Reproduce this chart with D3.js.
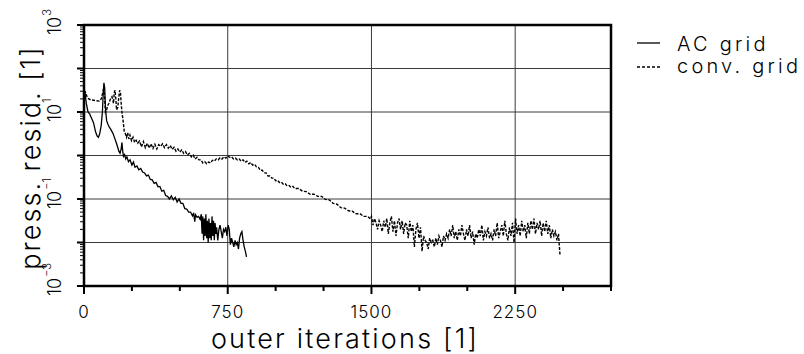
<!DOCTYPE html>
<html>
<head>
<meta charset="utf-8">
<script src="https://cdn.jsdelivr.net/npm/d3@7"></script>
<style>
  body { margin: 0; background: #fff; }
  svg { display: block; font-family: Inter, 'DejaVu Sans', sans-serif; font-weight: 300; }
</style>
</head>
<body>
<svg id="chart" width="804" height="354"></svg>
<script>
// [outer iteration, log10 of pressure residual]
const acGrid = [
  [0, 1.5], [5, 1.45], [12, 1.2], [21, 1.0], [30, 0.95], [40, 0.85], [50, 0.75], [60, 0.55],
  [68, 0.45], [75, 0.42], [82, 0.5], [90, 0.7], [96, 1.0], [100, 1.4], [104, 1.67], [108, 1.55],
  [112, 1.1], [118, 0.8], [125, 0.72], [132, 0.65], [140, 0.6], [146, 0.55], [152, 0.5], [160, 0.4],
  [168, 0.3], [175, 0.2], [182, 0.1], [188, 0.05], [194, 0.15], [198, 0.3], [202, 0.1], [206, -0.02],
  [212, 0.02], [218, -0.08], [224, -0.03], [232, -0.14], [240, -0.1], [250, -0.22], [258, -0.15],
  [266, -0.27], [276, -0.24], [286, -0.33], [296, -0.3], [306, -0.38], [316, -0.4], [326, -0.47],
  [336, -0.45], [346, -0.55], [356, -0.56], [366, -0.64], [376, -0.62], [386, -0.72], [396, -0.71],
  [406, -0.82], [416, -0.8], [426, -0.92], [436, -0.94], [446, -1.0], [456, -0.93], [466, -1.02],
  [476, -0.96], [486, -1.07], [496, -1.0], [506, -1.1], [516, -1.1], [526, -1.22], [536, -1.23],
  [546, -1.3], [556, -1.3], [566, -1.39], [572, -1.32], [578, -1.52], [582, -1.36], [590, -1.42],
  [598, -1.4], [606, -1.47], [612, -1.35], [616, -1.8], [620, -1.4], [624, -1.95], [628, -1.45],
  [632, -1.85], [636, -1.35], [640, -1.9], [644, -1.5], [648, -2.0], [652, -1.45], [656, -1.9],
  [660, -1.55], [664, -1.95], [668, -1.4], [672, -1.85], [676, -1.5], [680, -1.95], [684, -1.55],
  [688, -1.8], [692, -1.65], [698, -1.95], [704, -1.7], [710, -1.6], [716, -1.75], [722, -1.9],
  [728, -1.7], [734, -1.75], [740, -1.65], [746, -1.85], [752, -1.6], [758, -1.7], [764, -2.05],
  [770, -1.9], [776, -2.0], [782, -2.1], [788, -1.95], [794, -2.05], [800, -2.0], [806, -2.15],
  [812, -1.9], [818, -1.8], [824, -1.75], [830, -1.95], [836, -2.1], [842, -2.2], [848, -2.33]
];

const convGrid = [
  [0, 1.5], [8, 1.45], [16, 1.35], [25, 1.3], [35, 1.28], [50, 1.27], [65, 1.26], [80, 1.25],
  [90, 1.3], [98, 1.45], [104, 1.57], [108, 1.3], [112, 1.0], [118, 1.05], [124, 1.15], [130, 1.2],
  [138, 1.3], [146, 1.35], [154, 1.2], [158, 1.45], [162, 1.5], [166, 1.3], [170, 1.05], [176, 1.1],
  [182, 1.35], [186, 1.5], [190, 1.45], [194, 1.2], [198, 1.0], [204, 0.8], [210, 0.55], [216, 0.5],
  [222, 0.42], [228, 0.52], [234, 0.38], [240, 0.47], [248, 0.34], [256, 0.42], [264, 0.3], [272, 0.35],
  [280, 0.28], [290, 0.33], [300, 0.2], [310, 0.32], [320, 0.18], [330, 0.28], [340, 0.17], [350, 0.27],
  [360, 0.16], [370, 0.26], [380, 0.15], [390, 0.25], [400, 0.21], [410, 0.27], [420, 0.18], [430, 0.25],
  [440, 0.17], [450, 0.23], [460, 0.14], [470, 0.19], [480, 0.1], [490, 0.15], [500, 0.08], [510, 0.13],
  [520, 0.05], [530, 0.09], [540, 0.01], [550, 0.05], [560, -0.03], [570, 0.01], [580, -0.08],
  [590, -0.04], [600, -0.1], [610, -0.1], [620, -0.17], [630, -0.14], [640, -0.19], [650, -0.15],
  [660, -0.17], [670, -0.11], [680, -0.13], [690, -0.08], [700, -0.1], [710, -0.05], [720, -0.08],
  [730, -0.03], [740, -0.06], [750, -0.01], [760, -0.04], [770, -0.03], [780, -0.08], [790, -0.06],
  [800, -0.1], [810, -0.08], [820, -0.13], [830, -0.1], [840, -0.16], [850, -0.13], [860, -0.19],
  [870, -0.16], [880, -0.22], [890, -0.2], [900, -0.26], [910, -0.27], [920, -0.34], [930, -0.34],
  [940, -0.4], [950, -0.4], [960, -0.47], [970, -0.47], [980, -0.52], [990, -0.52], [1000, -0.58],
  [1010, -0.57], [1020, -0.62], [1030, -0.61], [1040, -0.66], [1050, -0.65], [1060, -0.7],
  [1070, -0.69], [1080, -0.73], [1090, -0.71], [1100, -0.76], [1120, -0.76], [1140, -0.82],
  [1160, -0.83], [1180, -0.89], [1200, -0.89], [1220, -0.94], [1240, -0.94], [1260, -1.01],
  [1280, -1.02], [1300, -1.1], [1320, -1.12], [1340, -1.2], [1360, -1.21], [1380, -1.27],
  [1400, -1.28], [1420, -1.34], [1440, -1.34], [1460, -1.4], [1480, -1.4], [1495, -1.46],
  [1500, -1.4], [1508, -1.6], [1516, -1.45], [1524, -1.55], [1532, -1.7], [1540, -1.5], [1548, -1.6],
  [1556, -1.75], [1564, -1.5], [1572, -1.65], [1580, -1.45], [1588, -1.8], [1596, -1.55], [1604, -1.4],
  [1612, -1.75], [1620, -1.5], [1628, -1.85], [1636, -1.55], [1644, -1.45], [1652, -1.7], [1660, -1.5],
  [1668, -1.8], [1676, -1.55], [1684, -1.6], [1692, -1.9], [1700, -1.5], [1708, -1.75], [1716, -1.6],
  [1724, -2.1], [1732, -1.7], [1740, -1.55], [1748, -1.9], [1756, -1.65], [1764, -2.2], [1772, -1.85],
  [1780, -1.95], [1788, -2.0], [1796, -2.15], [1804, -1.9], [1812, -2.0], [1820, -1.95], [1828, -2.1],
  [1836, -1.9], [1844, -2.05], [1852, -1.85], [1860, -1.95], [1868, -2.1], [1876, -1.85], [1884, -1.95],
  [1892, -1.8], [1900, -1.9], [1908, -1.7], [1916, -1.85], [1924, -1.6], [1932, -1.9], [1940, -1.75],
  [1948, -1.95], [1956, -1.7], [1964, -1.85], [1972, -1.6], [1980, -1.8], [1988, -1.95], [1996, -1.7],
  [2004, -1.85], [2012, -1.6], [2020, -1.9], [2028, -1.75], [2036, -2.05], [2044, -1.8], [2052, -1.9],
  [2060, -1.7], [2068, -1.85], [2076, -1.6], [2084, -1.95], [2092, -1.75], [2100, -1.85], [2108, -1.65],
  [2116, -1.9], [2124, -1.8], [2132, -1.95], [2140, -1.7], [2148, -1.85], [2156, -1.55], [2164, -1.9],
  [2172, -1.75], [2180, -1.6], [2188, -1.85], [2196, -1.5], [2204, -1.8], [2212, -1.95], [2220, -1.65],
  [2228, -1.85], [2236, -1.55], [2244, -2.0], [2252, -1.45], [2260, -1.8], [2268, -1.6], [2276, -1.85],
  [2284, -1.5], [2292, -1.75], [2300, -1.6], [2308, -1.9], [2316, -1.55], [2324, -1.8], [2332, -1.5],
  [2340, -1.7], [2348, -1.45], [2356, -1.8], [2364, -1.55], [2372, -1.7], [2380, -1.5], [2388, -1.85],
  [2396, -1.55], [2404, -1.75], [2412, -1.5], [2420, -1.8], [2428, -1.6], [2436, -1.9], [2444, -1.7],
  [2452, -1.85], [2460, -1.75], [2468, -1.95], [2476, -1.8], [2484, -2.3]
];

const xTicks = [0, 250, 500, 750, 1000, 1250, 1500, 1750, 2000, 2250, 2500, 2750];
const xLabels = [0, 750, 1500, 2250];
const yDecades = [-3, -2, -1, 0, 1, 2, 3];
const yLabels = [-3, -1, 1, 3];
const seriesNames = ['AC grid', 'conv. grid'];

const margin = { left: 84, right: 193, top: 25, bottom: 68 };
const width = 804, height = 354;

const svg = d3.select('#chart');

const x = d3.scaleLinear()
    .domain([0, 2750])
    .range([margin.left, width - margin.right]);
const y = d3.scaleLog()
    .domain([1e-3, 1e3])
    .range([height - margin.bottom, margin.top]);

const [x0, x1] = x.range();
const [y0, y1] = y.range();

// grid
svg.append('g')
    .selectAll('line')
    .data(yDecades.slice(1, -1))
    .join('line')
        .attr('x1', x0).attr('x2', x1)
        .attr('y1', d => y(10 ** d)).attr('y2', d => y(10 ** d))
        .attr('stroke', '#3a3a3a').attr('stroke-width', 1);

svg.append('g')
    .selectAll('line')
    .data(xLabels.slice(1))
    .join('line')
        .attr('x1', d => x(d)).attr('x2', d => x(d))
        .attr('y1', y1).attr('y2', y0)
        .attr('stroke', '#3a3a3a').attr('stroke-width', 1);

// x axis ticks
svg.append('g')
    .selectAll('line')
    .data(xTicks)
    .join('line')
        .attr('x1', d => x(d)).attr('x2', d => x(d))
        .attr('y1', y0).attr('y2', d => y0 + (xLabels.includes(d) ? 8 : 5))
        .attr('stroke', '#000').attr('stroke-width', 2);

svg.append('g')
    .selectAll('text')
    .data(xLabels)
    .join('text')
        .attr('x', d => x(d))
        .attr('y', 318)
        .attr('text-anchor', 'middle')
        .attr('font-size', 17)
        .attr('letter-spacing', 1)
        .text(d => d);

// y axis: major and minor log ticks
const minor = [];
yDecades.slice(0, -1).forEach(e => {
    for (let k = 2; k <= 9; k++) minor.push(k * 10 ** e);
});

svg.append('g')
    .selectAll('line')
    .data(minor)
    .join('line')
        .attr('x1', x0 - 4).attr('x2', x0 + 1)
        .attr('y1', d => y(d)).attr('y2', d => y(d))
        .attr('stroke', '#000').attr('stroke-width', 1);

svg.append('g')
    .selectAll('line')
    .data(yDecades)
    .join('line')
        .attr('x1', x0 - 7).attr('x2', x0)
        .attr('y1', d => y(10 ** d)).attr('y2', d => y(10 ** d))
        .attr('stroke', '#000').attr('stroke-width', 2);

const yLab = svg.append('g')
    .selectAll('text')
    .data(yLabels)
    .join('text')
        .attr('transform', d => `translate(61, ${y(10 ** d) + 10}) rotate(-90)`)
        .attr('font-size', 18);
yLab.append('tspan').text('10');
yLab.append('tspan')
    .attr('dy', -10)
    .attr('dx', 1)
    .attr('font-size', 11)
    .text(d => String(d).replace('-', '\u2212'));

// frame
svg.append('rect')
    .attr('x', x0).attr('y', y1)
    .attr('width', x1 - x0).attr('height', y0 - y1)
    .attr('fill', 'none')
    .attr('stroke', '#000')
    .attr('stroke-width', 2.5);

// series
const line = d3.line()
    .x(d => x(d[0]))
    .y(d => y(10 ** d[1]));

svg.append('path')
    .datum(acGrid)
    .attr('d', line)
    .attr('fill', 'none')
    .attr('stroke', '#000')
    .attr('stroke-width', 1.3);

svg.append('path')
    .datum(convGrid)
    .attr('d', line)
    .attr('fill', 'none')
    .attr('stroke', '#000')
    .attr('stroke-width', 1.4)
    .attr('stroke-dasharray', '3,1.5');

// titles
svg.append('text')
    .attr('x', 345)
    .attr('y', 348)
    .attr('text-anchor', 'middle')
    .attr('font-size', 27)
    .attr('letter-spacing', 2.2)
    .text('outer iterations [1]');

svg.append('text')
    .attr('transform', `translate(40, ${(y0 + y1) / 2 + 2}) rotate(-90)`)
    .attr('text-anchor', 'middle')
    .attr('font-size', 27)
    .attr('letter-spacing', 2)
    .text('press. resid. [1]');

// legend
const legend = svg.append('g')
    .selectAll('g')
    .data(seriesNames)
    .join('g');

legend.append('line')
    .attr('x1', 637).attr('x2', 660)
    .attr('y1', (d, i) => 43 + i * 24).attr('y2', (d, i) => 43 + i * 24)
    .attr('stroke', '#000')
    .attr('stroke-width', 1.3)
    .attr('stroke-dasharray', (d, i) => i ? '3,2' : null);

legend.append('text')
    .attr('x', 677)
    .attr('y', (d, i) => 51 + i * 22)
    .attr('font-size', 20)
    .attr('letter-spacing', 3.2)
    .text(d => d);
</script>
</body>
</html>
